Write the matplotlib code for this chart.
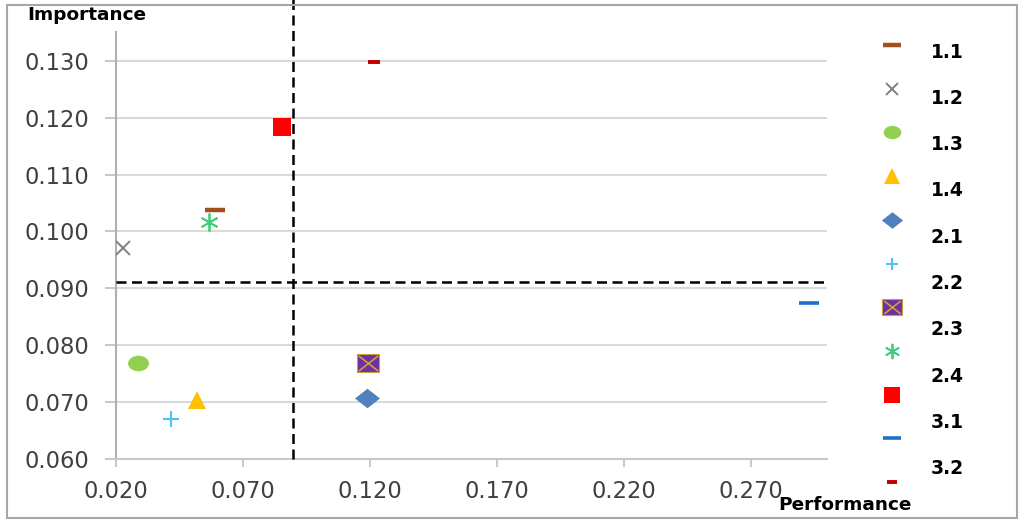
import matplotlib
matplotlib.use("Agg")
import matplotlib.pyplot as plt
from matplotlib.path import Path
from matplotlib.transforms import Affine2D
from matplotlib.markers import MarkerStyle
from matplotlib.patches import Rectangle
from matplotlib.ticker import FixedLocator, FormatStrFormatter

# ---- data ----
performance = [0.059, 0.0228, 0.0286, 0.0518, 0.1188, 0.0415, 0.1194, 0.0568, 0.0855, 0.293, 0.1215]
importance = [0.1038, 0.0971, 0.0768, 0.0703, 0.0707, 0.0670, 0.0769, 0.1017, 0.1184, 0.0874, 0.1297]
legend_labels = ["1.1", "1.2", "1.3", "1.4", "2.1", "2.2", "2.3", "2.4", "3.1", "3.2"]
x_ticks = [0.020, 0.070, 0.120, 0.170, 0.220, 0.270]
y_ticks = [0.060, 0.070, 0.080, 0.090, 0.100, 0.110, 0.120, 0.130]
perf_threshold = 0.0896
imp_threshold = 0.0911

ellipse = MarkerStyle(Path.unit_circle().transformed(Affine2D().scale(1.0, 0.75)))
diamond = MarkerStyle(Path([(0, 0.78), (1, 0), (0, -0.78), (-1, 0), (0, 0.78)],
                           [Path.MOVETO, Path.LINETO, Path.LINETO, Path.LINETO, Path.CLOSEPOLY]))
rect = MarkerStyle(Path([(-1, -0.78), (1, -0.78), (1, 0.78), (-1, 0.78), (-1, -0.78)],
                        [Path.MOVETO, Path.LINETO, Path.LINETO, Path.LINETO, Path.CLOSEPOLY]))
xmark = MarkerStyle(Path([(-1, -0.78), (1, 0.78), (-1, 0.78), (1, -0.78)],
                         [Path.MOVETO, Path.LINETO, Path.MOVETO, Path.LINETO]))

# marker styles (one per series)
styles = [
    dict(marker="_", ms=14.5, mew=3.2, color="#a0501e"),
    dict(marker="x", ms=10, mew=1.4, color="#808080"),
    dict(marker=ellipse, ms=15, mew=0, color="#92d050"),
    dict(marker="^", ms=13, mew=0, color="#ffc000"),
    dict(marker=diamond, ms=18, mew=0, color="#4f81bd"),
    dict(marker="+", ms=11, mew=1.5, color="#4fc3f7"),
    "boxx",
    dict(marker=(6, 2, 0), ms=13, mew=1.3, color="#3ecf7a"),
    dict(marker="s", ms=13, mew=0, color="#ff0000"),
    dict(marker="_", ms=15, mew=2.6, color="#1f70c8"),
    dict(marker="_", ms=8, mew=2.8, color="#c00000"),
]

fig = plt.figure(figsize=(10.24, 5.26), dpi=100)
W, H = 1024, 526
ax = fig.add_axes([116 / W, 1 - 459 / H, 710.7 / W, 426.75 / H])
ax.set_xlim(0.02, 0.30)
ax.set_ylim(0.06, 0.135)

for s in ["top", "right"]:
    ax.spines[s].set_visible(False)
ax.spines["left"].set_color("#b0b0b0")
ax.spines["bottom"].set_color("#c8c8c8")
ax.spines["left"].set_linewidth(1.5)
ax.spines["bottom"].set_linewidth(1.5)

ax.xaxis.set_major_locator(FixedLocator(x_ticks))
ax.yaxis.set_major_locator(FixedLocator(y_ticks))
ax.xaxis.set_major_formatter(FormatStrFormatter("%.3f"))
ax.yaxis.set_major_formatter(FormatStrFormatter("%.3f"))
ax.tick_params(axis="x", length=6, width=1.2, color="#bfbfbf", pad=9,
               labelsize=16.3, labelcolor="#404040")
ax.tick_params(axis="y", length=8, width=1.2, color="#bfbfbf", pad=11,
               labelsize=16.3, labelcolor="#404040")
ax.grid(axis="y", color="#d9d9d9", linewidth=1.5)
ax.set_axisbelow(True)

# threshold lines
dash = (0, (4, 2.2))
ax.axvline(perf_threshold, ymin=0, ymax=1.08, color="black", lw=1.8,
           linestyle=dash, clip_on=False, zorder=3)
ax.axhline(imp_threshold, color="black", lw=1.8, linestyle=dash, zorder=3)


def draw(axx, x, y, st, scale=1.0, **kw):
    if st == "boxx":
        axx.plot(x, y, marker=rect, ms=16.5 * scale, mew=0.8, mec="#c8a040", color="#7030a0",
                 linestyle="none", clip_on=False, zorder=4, **kw)
        axx.plot(x, y, marker=xmark, ms=14 * scale, mew=1.2, color="#c8a040",
                 linestyle="none", clip_on=False, zorder=5, **kw)
    else:
        st = dict(st)
        c = st.pop("color")
        st["ms"] = st["ms"] * scale
        axx.plot(x, y, linestyle="none", color=c, mec=c, mfc=c, clip_on=False,
                 zorder=4, **st, **kw)


for x, y, st in zip(performance, importance, styles):
    draw(ax, [x], [y], st)

# legend (markers and labels placed independently, as in reference)
for i, st in enumerate(styles):
    ypix = 45 + i * 43.7
    draw(ax, [892.3 / W], [1 - ypix / H], st, scale=0.85, transform=fig.transFigure)
for i, lab in enumerate(legend_labels):
    ypix = 52 + i * 46.3
    fig.text(931 / W, 1 - ypix / H, lab, fontsize=13.5, fontweight="bold",
             va="center", ha="left", color="black")

fig.text(27 / W, 1 - 15 / H, "Importance", fontsize=13.3, fontweight="bold",
         va="center", ha="left")
fig.text(778 / W, 1 - 505 / H, "Performance", fontsize=13.3, fontweight="bold",
         va="center", ha="left")

fig.patches.append(Rectangle((7 / W, 1 - 518 / H), 1010 / W, 513 / H,
                             transform=fig.transFigure, fill=False,
                             edgecolor="#a6a6a6", linewidth=1.5, zorder=0))

fig.savefig("out.png", dpi=100, facecolor="white")
